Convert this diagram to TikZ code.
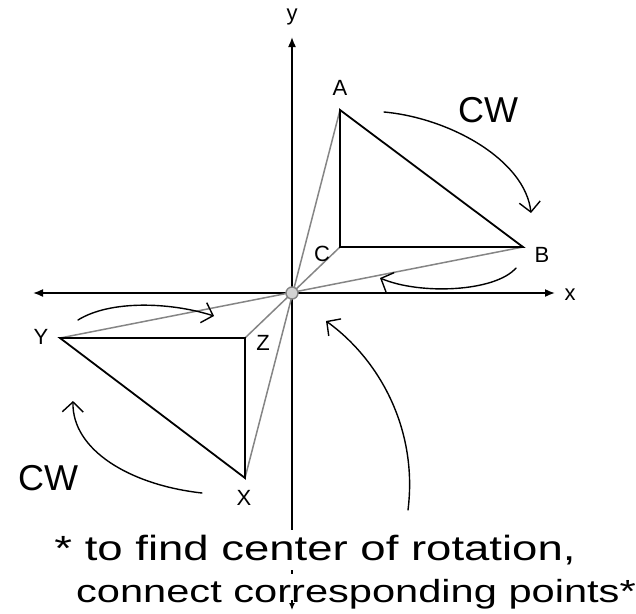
\documentclass[tikz,border=0pt]{standalone}
\usepackage{fontspec}
\setmainfont{Liberation Sans}
\newfontfamily\handfont[FakeStretch=1.3]{Liberation Sans}
\usetikzlibrary{arrows.meta}
\definecolor{linkgray}{HTML}{858585}

\begin{document}
\begin{tikzpicture}[x=1pt,y=-1pt,
  axisline/.style={line width=1.6pt,{Latex[length=10pt,width=8pt]}-{Latex[length=10pt,width=8pt]}},
  tri/.style={line width=1.8pt,line join=miter},
  link/.style={line width=1.5pt,draw=linkgray},
  lbl/.style={font=\fontsize{22}{24}\selectfont,inner sep=1pt},
  hand/.style={line width=1.4pt,line cap=round,-{Straight Barb[length=10pt,width=21pt]}},
  cw/.style={font=\fontsize{36}{38}\selectfont},
  note/.style={font=\handfont\fontsize{32}{34}\selectfont,inner xsep=1pt,inner ysep=5pt,fill=white}
]
\useasboundingbox (0,0) rectangle (636,613);

% axes
\coordinate (O) at (292,293);
\coordinate (xl) at (33,293);
\coordinate (xr) at (555,293);
\coordinate (yt) at (292,37);
\coordinate (yb) at (292,610);
\draw[axisline] (xl) -- (xr);
\draw[axisline] (yb) -- (yt);
\node[lbl] (xlab) at (570,295) {x};
\node[lbl] (ylab) at (292,17) {y};

% triangles
\coordinate (A) at (340,110);
\coordinate (B) at (523,247);
\coordinate (C) at (340,247);
\coordinate (X) at (245,478);
\coordinate (Y) at (60,338);
\coordinate (Z) at (245,338);
\draw[link] (A) -- (X);
\draw[link] (B) -- (Y);
\draw[link] (C) -- (Z);
\draw[tri] (A) -- (B) -- (C) -- cycle;
\draw[tri] (X) -- (Y) -- (Z) -- cycle;
\draw[linkgray,line width=1.4pt,fill=gray!35] (O) circle (6pt);

\node[lbl] (lA) at (340,88) {A};
\node[lbl] (lB) at (542,255) {B};
\node[lbl] (lC) at (322,254) {C};
\node[lbl] (lX) at (244,498) {X};
\node[lbl] (lY) at (41,337) {Y};
\node[lbl] (lZ) at (263,343) {Z};

% hand-drawn arrows
\node[cw] (cwtop) at (488,110) {CW};
\node[cw] (cwbot) at (48,478) {CW};
\coordinate (t1) at (384,112);
\coordinate (t2) at (531,213);
\draw[hand] (t1) .. controls (450,118) and (525,160) .. (t2);
\coordinate (b1) at (516,268);
\coordinate (b2) at (380,278);
\draw[hand] (b1) .. controls (495,292) and (420,295) .. (b2);
\coordinate (y1) at (78,320);
\coordinate (y2) at (214,316);
\draw[hand] (y1) .. controls (110,300) and (170,302) .. (y2);
\coordinate (w1) at (202,493);
\coordinate (w2) at (73,401);
\draw[hand] (w1) .. controls (130,485) and (72,450) .. (w2);
\coordinate (r1) at (408,510);
\coordinate (r2) at (326,321);
\draw[hand] (r1) .. controls (418,430) and (380,360) .. (r2);

% note
\node[note,font=\handfont\fontsize{35}{37}\selectfont] (note1) at (315,550) {* to find center of rotation,};
\node[note] (note2) at (356,594) {connect corresponding points*};
\coordinate (ytip) at (292,600);
\draw[line width=1.2pt,-{Latex[length=7pt,width=6pt]}] (ytip) -- (yb);
\end{tikzpicture}
\end{document}
